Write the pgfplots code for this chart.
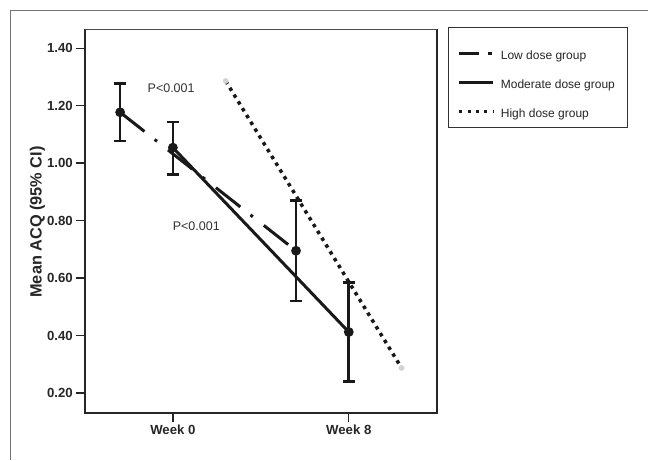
\documentclass[border=0pt]{standalone}
\usepackage{fontspec}
\setmainfont{Liberation Sans}
\usepackage{pgfplots}
\pgfplotsset{compat=1.18}
\begin{document}
\begin{tikzpicture}[x=1pt,y=1pt]
\fill[white] (0,0) rectangle (648,460);
\draw[black!55, line width=0.8pt] (10,0) -- (10,450) -- (648,450);
\draw[black!80, line width=0.8pt] (449,433) rectangle (628,333);
\begin{axis}[
  at={(85pt,47pt)}, anchor=south west,
  scale only axis, width=352pt, height=384pt,
  xmin=-0.5, xmax=1.5, ymin=0.131, ymax=1.467,
  xtick={0,1}, xticklabels={Week 0, Week 8},
  ytick={0.2,0.4,0.6,0.8,1.0,1.2,1.4},
  yticklabels={0.20,0.40,0.60,0.80,1.00,1.20,1.40},
  xtick pos=bottom, ytick pos=left,
  tick align=outside, major tick length=9pt,
  tick style={line width=1.3pt, black!85},
  ticklabel style={font=\fontsize{13.2}{14}\selectfont\bfseries, text=black!85},
  yticklabel style={inner xsep=3pt},
  xticklabel style={inner ysep=3pt},
  ylabel={Mean ACQ (95\% CI)},
  ylabel style={at={(axis description cs:-0.135,0.497)}, anchor=center,
    font=\fontsize{16.3}{18}\selectfont\bfseries, text=black!85},
  axis line style={draw=none},
  after end axis/.code={
    \draw[line width=1.6pt, black!85] (rel axis cs:0,1) -- (rel axis cs:0,0) -- (rel axis cs:1,0) -- (rel axis cs:1,1);
    \draw[line width=0.7pt, black!70] (rel axis cs:0,1) -- (rel axis cs:1,1);
  },
  legend style={at={(1.0597,0.944)}, anchor=north west, draw=none, fill=none,
    inner sep=0pt, row sep=17pt, column sep=6pt,
    nodes={inner sep=0pt, text height=9pt, text depth=3pt, text=black!85},
    font=\fontsize{12}{14}\selectfont},
  legend cell align=left,
]
\addplot[black!90, line width=3pt, dash pattern=on 31pt off 13pt on 3pt off 14pt,
  mark=*, mark size=3.3pt, mark options={solid},
  error bars/.cd, y dir=both, y explicit, error mark=-,
  error mark options={solid, rotate=90, line width=2.6pt, mark size=6pt, black!90},
  error bar style={solid, line width=2.6pt, black!90},
  /pgfplots/legend image code/.code={
    \draw[black!90, line width=3pt] (0pt,3.5pt) -- (20pt,3.5pt);
    \draw[black!90, line width=3pt] (28.5pt,3.5pt) -- (32.5pt,3.5pt);}
] coordinates {
  (-0.3,1.177) += (0,0.101) -= (0,0.100)
  (0.7,0.695) += (0,0.174) -= (0,0.175)
};
\addlegendentry{Low dose group}
\addplot[black!90, line width=3pt,
  mark=*, mark size=3.3pt,
  error bars/.cd, y dir=both, y explicit, error mark=-,
  error mark options={rotate=90, line width=2.6pt, mark size=6pt, black!90},
  error bar style={line width=2.6pt, black!90},
  /pgfplots/legend image code/.code={
    \draw[black!90, line width=3pt] (0pt,3.5pt) -- (33.5pt,3.5pt);}
] coordinates {
  (0,1.054) += (0,0.089) -= (0,0.094)
  (1,0.412) += (0,0.173) -= (0,0.172)
};
\addlegendentry{Moderate dose group}
\addplot[black!90, line width=3.5pt, dash pattern=on 3.5pt off 4.5pt,
  mark=*, mark size=2.6pt, mark options={solid, fill=gray!35, draw=gray!35, line width=0.4pt},
  /pgfplots/legend image code/.code={
    \draw[black!90, line width=3pt, dash pattern=on 3pt off 5.3pt] (0pt,3.5pt) -- (34pt,3.5pt);}
] coordinates {
  (0.3,1.286)
  (1.3,0.287)
};
\addlegendentry{High dose group}
\node[font=\fontsize{12.5}{14}\selectfont, text=black!80] at (axis cs:-0.01,1.261) {P<0.001};
\node[font=\fontsize{12.5}{14}\selectfont, text=black!80] at (axis cs:0.133,0.779) {P<0.001};
\end{axis}
\end{tikzpicture}
\end{document}
